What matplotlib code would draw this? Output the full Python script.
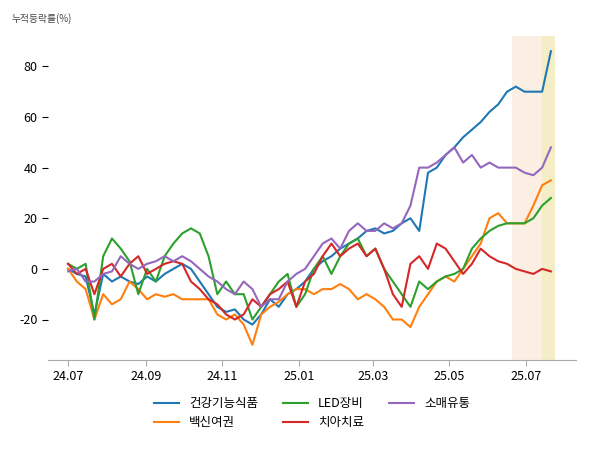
import matplotlib
matplotlib.use("Agg")
import matplotlib.pyplot as plt
import pandas as pd

plt.rcParams["font.family"] = ["Noto Sans CJK KR", "Noto Sans CJK JP", "Noto Sans CJK SC", "DejaVu Sans"]
plt.rcParams["axes.unicode_minus"] = False

dates = pd.date_range("2024-07-01", periods=56, freq="7D")
names = ["건강기능식품", "백신여권", "LED장비", "치아치료", "소매유통"]
health = [0,-2,-3,-18,-2,-5,-3,-5,-6,-3,-5,-2,0,2,0,-5,-10,-15,-17,-16,-20,-22,-18,-12,-15,-10,-8,-5,0,3,5,8,10,12,15,16,14,15,18,20,15,38,40,45,48,52,55,58,62,65,70,72,70,70,70,86]
vaccine = [0,-5,-8,-20,-10,-14,-12,-5,-8,-12,-10,-11,-10,-12,-12,-12,-12,-18,-20,-18,-22,-30,-18,-15,-13,-10,-8,-8,-10,-8,-8,-6,-8,-12,-10,-12,-15,-20,-20,-23,-15,-10,-5,-3,-5,0,5,10,20,22,18,18,18,25,33,35]
led = [2,0,2,-20,5,12,8,3,-10,0,-5,5,10,14,16,14,5,-10,-5,-10,-10,-20,-15,-10,-5,-2,-15,-10,0,5,-2,5,10,12,5,8,0,-5,-10,-15,-5,-8,-5,-3,-2,0,8,12,15,17,18,18,18,20,25,28]
dental = [2,-2,0,-10,0,2,-3,2,5,-2,0,2,3,2,-5,-8,-12,-14,-18,-20,-18,-12,-15,-10,-8,-5,-15,-5,-2,5,10,5,8,10,5,8,0,-10,-15,2,5,0,10,8,3,-2,2,8,5,3,2,0,-1,-2,0,-1]
retail = [-1,0,-5,-5,-2,-1,5,2,0,2,3,5,3,5,3,0,-3,-5,-8,-10,-5,-8,-15,-12,-12,-5,-2,0,5,10,12,8,15,18,15,15,18,16,18,25,40,40,42,45,48,42,45,40,42,40,40,40,38,37,40,48]
series = [health, vaccine, led, dental, retail]
colors = ["#1f77b4", "#ff7f0e", "#2ca02c", "#d62728", "#9467bd"]
xticks = ["2024-07-01","2024-09-01","2024-11-01","2025-01-01","2025-03-01","2025-05-01","2025-07-01"]
xlabels = ["24.07","24.09","24.11","25.01","25.03","25.05","25.07"]

fig, ax = plt.subplots(figsize=(6, 4.5), dpi=100)
fig.subplots_adjust(left=0.08, right=0.96, top=0.92, bottom=0.2)
ax.axvspan(pd.Timestamp("2025-06-20"), pd.Timestamp("2025-07-14"), color="#f5dcc0", alpha=0.45, lw=0)
ax.axvspan(pd.Timestamp("2025-07-14"), pd.Timestamp("2025-07-24"), color="#eee2a0", alpha=0.6, lw=0)
for n, s, c in zip(names, series, colors):
    ax.plot(dates, s, color=c, lw=1.5, label=n)
ax.set_xticks(pd.to_datetime(xticks))
ax.set_xticklabels(xlabels, fontsize=9)
ax.set_yticks([-20, 0, 20, 40, 60, 80])
ax.tick_params(axis="y", labelsize=9, length=4, direction="out")
ax.tick_params(axis="x", length=4, color="#aaaaaa")
ax.set_ylim(-36, 92)
ax.set_xlim(pd.Timestamp("2024-06-15"), pd.Timestamp("2025-08-10"))
for sp in ["left", "right", "top"]:
    ax.spines[sp].set_visible(False)
ax.spines["bottom"].set_color("#aaaaaa")
fig.text(0.02, 0.97, "누적등락률(%)", fontsize=7, color="#444444", va="top")
ax.legend(loc="upper center", bbox_to_anchor=(0.5, -0.08), ncol=3, frameon=False, fontsize=9)
fig.savefig("out.png")
